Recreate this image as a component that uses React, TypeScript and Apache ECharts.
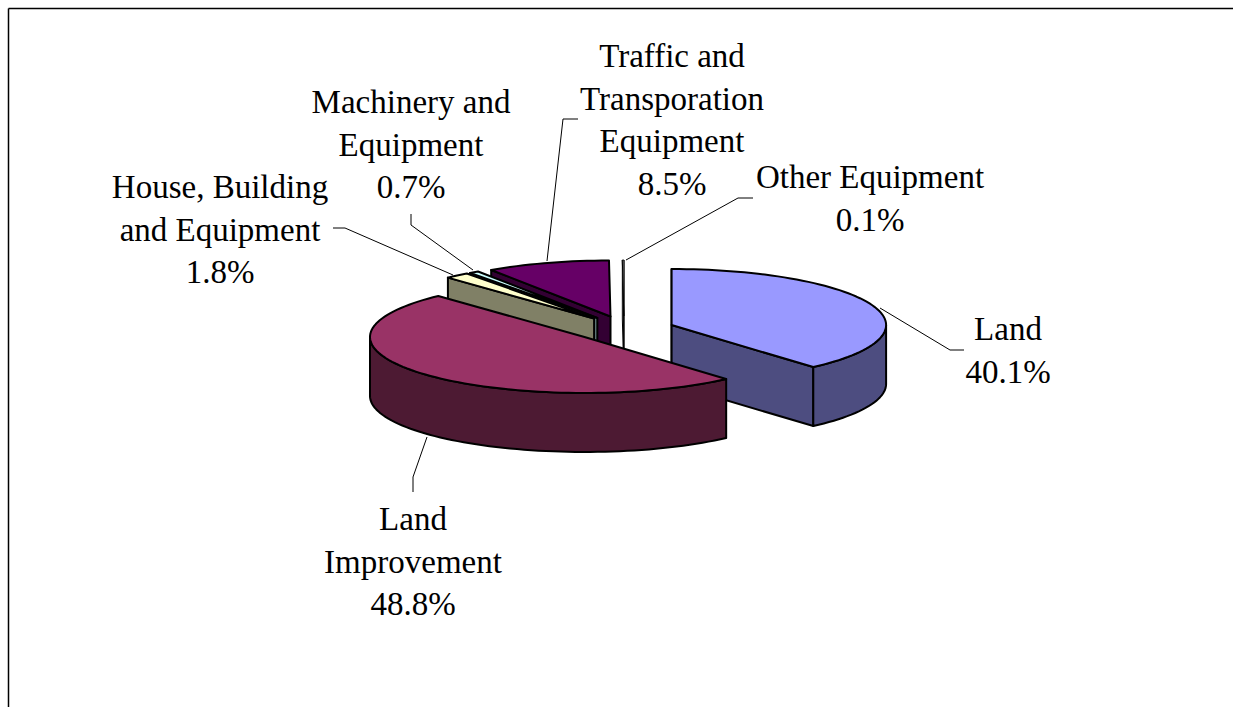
import React, { useEffect, useRef } from "react";
import * as echarts from "echarts";

const categories = [
  "Land",
  "Land\nImprovement",
  "House, Building\nand Equipment",
  "Machinery and\nEquipment",
  "Traffic and\nTransporation\nEquipment",
  "Other Equipment",
];
const shares = [40.1, 48.8, 1.8, 0.7, 8.5, 0.1];
const topColors = ["#9999FF", "#993366", "#FFFFCC", "#CCFFFF", "#660066", "#FFFFFF"];
const wallColors = ["#4D4D80", "#4D1A33", "#808066", "#668080", "#330033", "#FFFFFF"];

// Layout of the callouts (text anchor = centre of first line, then the leader polyline)
const labelAnchors = [
  [1008, 329],
  [413, 519],
  [220, 187],
  [411, 102],
  [672, 56],
  [870, 177],
];
const leaders = [
  [[964, 350], [950, 350], [880, 308]],
  [[413, 492], [413, 477], [427, 437]],
  [[333, 228], [345, 228], [453, 275]],
  [[411, 214], [411, 225], [473, 270]],
  [[578, 119], [563, 119], [547, 261]],
  [[753, 198], [738, 198], [626, 260]],
];

const CX = 624;
const CY = 329;
const RX = 214.5;
const RY = 56;
const EX = 50;
const EY = 13;
const DEPTH = 59;
const FONT = 33;
const LINE = 42.5;

const rad = (d: number) => (d * Math.PI) / 180;
// Excel's 3-D projection slightly compresses the sweep on the ellipse
const warp = (t: number) => t + 4.58 * Math.sin(rad(2 * t)) - 2.34 * Math.sin(rad(t));

function buildSlices() {
  const total = shares.reduce((a, b) => a + b, 0);
  let acc = 0;
  const rows = shares.map((v, i) => {
    const a = (acc / total) * 360;
    acc += v;
    const b = (acc / total) * 360;
    return [i, a, b];
  });
  return rows.sort((p, q) => -Math.cos(rad((p[1] + p[2]) / 2)) - -Math.cos(rad((q[1] + q[2]) / 2)));
}

function renderSlice(_: any, api: any) {
  const idx = api.value(0);
  const t0 = api.value(1);
  const t1 = api.value(2);
  const mid = (t0 + t1) / 2;
  const ax = CX + EX * Math.sin(rad(mid));
  const ay = CY - EY * Math.cos(rad(mid));
  const a = warp(t0);
  const b = warp(t1);
  const pt = (phi: number, drop = 0) => [ax + RX * Math.sin(rad(phi)), ay - RY * Math.cos(rad(phi)) + drop];
  const arc = (from: number, to: number, drop = 0) => {
    const out: number[][] = [];
    const n = Math.max(1, Math.ceil((to - from) / 2));
    for (let k = 0; k <= n; k++) out.push(pt(from + ((to - from) * k) / n, drop));
    return out;
  };
  const stroke = { stroke: "#000", lineWidth: t1 - t0 < 1 ? 1 : 2, lineJoin: "round" };
  const children: any[] = [];
  const face = (phi: number) => {
    const e = pt(phi);
    return {
      type: "polygon",
      shape: { points: [[ax, ay], e, [e[0], e[1] + DEPTH], [ax, ay + DEPTH]] },
      style: { fill: wallColors[idx], ...stroke },
    };
  };
  if (Math.sin(rad(a)) <= 1e-6) children.push(face(a));
  if (Math.sin(rad(b)) >= -1e-6 || t1 >= 360) children.push(face(b));
  const w0 = Math.max(a, 90);
  const w1 = Math.min(b, 270);
  if (w1 > w0) {
    children.push({
      type: "polygon",
      shape: { points: [...arc(w0, w1), ...arc(w0, w1, DEPTH).reverse()] },
      style: { fill: wallColors[idx], ...stroke },
    });
  }
  children.push({
    type: "polygon",
    shape: { points: [[ax, ay], ...arc(a, b)] },
    style: { fill: topColors[idx], ...stroke },
  });
  return { type: "group", children };
}

export default function App() {
  const ref = useRef<HTMLDivElement>(null);
  useEffect(() => {
    document.body.style.margin = "0";
    const chart = echarts.init(ref.current!, undefined, { renderer: "svg" });
    const labels = categories.map((name, i) => ({
      type: "text",
      z: 20,
      x: labelAnchors[i][0],
      y: labelAnchors[i][1] - LINE / 2,
      style: {
        text: `${name}\n${shares[i].toFixed(1)}%`,
        font: `${FONT}px "Liberation Serif", "Times New Roman", serif`,
        lineHeight: LINE,
        fill: "#000",
        align: "center",
        verticalAlign: "top",
      },
    }));
    const lines = leaders.map((pts) => ({
      type: "polyline",
      z: 10,
      shape: { points: pts },
      style: { stroke: "#000", lineWidth: 1, fill: "none" },
    }));
    chart.setOption({
      animation: false,
      backgroundColor: "#fff",
      graphic: [
        { type: "line", z: 5, shape: { x1: 8.5, y1: 8.5, x2: 1233, y2: 8.5 }, style: { stroke: "#000", lineWidth: 1.5 } },
        { type: "line", z: 5, shape: { x1: 8.5, y1: 8.5, x2: 8.5, y2: 707 }, style: { stroke: "#000", lineWidth: 1.5 } },
        ...lines,
        ...labels,
      ],
      series: [
        {
          type: "custom",
          coordinateSystem: "none",
          z: 15,
          renderItem: renderSlice,
          data: buildSlices(),
          encode: { tooltip: [] },
          silent: true,
        },
      ],
    });
    return () => chart.dispose();
  }, []);
  return <div ref={ref} style={{ width: 1233, height: 707 }} />;
}
